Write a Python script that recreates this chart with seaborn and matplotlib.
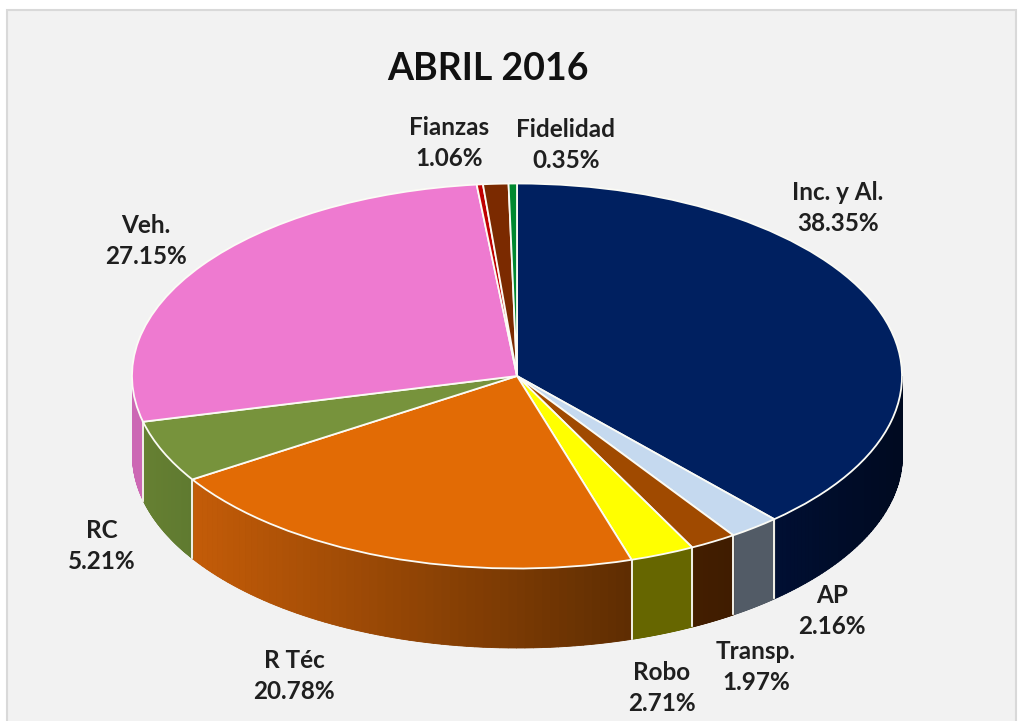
import numpy as np
import seaborn as sns
import matplotlib.pyplot as plt
from matplotlib.colors import to_rgb
from matplotlib.patches import Rectangle

title = 'ABRIL 2016'
labels = ['Inc. y Al.', 'AP', 'Transp.', 'Robo', 'R Téc', 'RC', 'Veh.', '', 'Fianzas', 'Fidelidad']
values = [38.35, 2.16, 1.97, 2.71, 20.78, 5.21, 27.15, 0.26, 1.06, 0.35]
top_colors = ['#002060', '#c5d9ef', '#a04a00', '#ffff00', '#e26b05', '#77933c',
              '#ee7ad0', '#c00000', '#7b2a00', '#00882f']
side_start = ['#000f33', '#525b66', '#431e00', '#666600', '#c45c08', '#668032',
              '#cc68b4', '#c00000', '#7b2a00', '#00882f']
side_end = ['#000a20', '#525b66', '#3f1c00', '#666600', '#5e2d02', '#5f7a30',
            '#cc68b4', '#c00000', '#7b2a00', '#00882f']

# pixel layout of the picture
W, H = 1020, 721
cx, cy = 517, 376
rx, ry = 385, 192.5
depth = 79 / ry
label_x = [838, 832, 756, 662, 294, 102, 146, 0, 449, 566]
label_y = [208, 611, 667, 688, 676, 546, 241, 0, 143, 145]

sns.set_theme(style='white')
plt.rcParams['font.family'] = ['Lato', 'DejaVu Sans']

fig = plt.figure(figsize=(W / 100, H / 100), dpi=100, facecolor='white')
fig.add_artist(Rectangle((7 / W, -0.01), (W - 11) / W, 1 - 10 / H + 0.01, transform=fig.transFigure,
                         facecolor='#f2f2f2', edgecolor='#d9d9d9', linewidth=1.5, zorder=-1))
ax = fig.add_axes([0, 0, 1, 1])
ax.patch.set_alpha(0)

wedges, _ = ax.pie(values, colors=sns.color_palette(top_colors), startangle=90, counterclock=False,
                   radius=1, wedgeprops={'edgecolor': '#fbfbf5', 'linewidth': 1.3, 'zorder': 5})
ax.set_aspect('auto')
ax.set_xlim(-cx / rx, (W - cx) / rx)
ax.set_ylim(-(H - cy) / ry, cy / ry)

# side wall, only the front half of the ellipse shows
shares = np.cumsum([0] + values) / sum(values)
for i in range(len(values)):
    a1 = 90 - 360 * shares[i]
    a2 = 90 - 360 * shares[i + 1]
    lo = max(a2, -180)
    hi = min(a1, 0)
    if lo >= hi:
        continue
    c1 = np.array(to_rgb(side_start[i]))
    c2 = np.array(to_rgb(side_end[i]))
    edges = np.radians(np.linspace(hi, lo, 61))
    # colour runs left to right on the wall
    xs = np.cos(edges)
    left, right = xs.min(), xs.max()
    # one solid piece underneath so the strips leave no seams
    t = np.radians(np.linspace(hi, lo, 200))
    ax.fill_between(np.cos(t), np.sin(t), np.sin(t) - depth, color=(c1 + c2) / 2, linewidth=0, zorder=1.5)
    for j in range(60):
        t = np.linspace(edges[j], edges[j + 1], 4)
        mid = (np.cos(t).mean() - left) / (right - left)
        col = c1 + (c2 - c1) * mid
        ax.fill_between(np.cos(t), np.sin(t), np.sin(t) - depth, color=col, linewidth=0.6, zorder=2)
    for a in (a1, a2):
        if -180 < a < 0:
            r = np.radians(a)
            ax.plot([np.cos(r)] * 2, [np.sin(r), np.sin(r) - depth], color='#f0efe6', lw=1.3, zorder=3)

for name, v, x, y in zip(labels, values, label_x, label_y):
    if name:
        ax.text((x - cx) / rx, (cy - y) / ry, f'{name}\n{v:.2f}%', ha='center', va='center',
                fontsize=17.5, fontweight='bold', color='#1f1f1f', linespacing=1.46)
ax.text((488 - cx) / rx, (cy - 69) / ry, title, ha='center', va='center',
        fontsize=27, fontweight='bold', color='#111111')

fig.savefig('out.png', dpi=100)
